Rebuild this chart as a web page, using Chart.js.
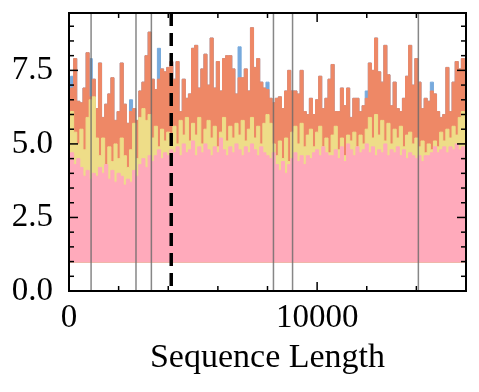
<!DOCTYPE html>
<html>
<head>
<meta charset="utf-8">
<script src="https://cdn.jsdelivr.net/npm/chart.js@4/dist/chart.umd.min.js"></script>
<style>
html, body { margin: 0; padding: 0; background: #fff; }
</style>
</head>
<body>
<canvas id="myChart" width="479" height="392"></canvas>
<script>
// sequence positions (every 125 tokens, 0..16000)
var seqLen = [];
for (var i = 0; i <= 128; i++) seqLen.push(i * 125);

// values
var orangeVals = [
  6.7, 6.9, 7.9, 6.45, 6.4, 6.9, 8.1, 6.6, 7.2, 6.2,
  7.75, 5.9, 6.35, 6.7, 7.25, 5.8, 6.1, 7.75, 6.35, 5.7,
  6.1, 6.2, 5.8, 6.8, 7.1, 8.0, 8.8, 7.2, 6.85, 7.2,
  7.55, 7.45, 7.6, 7.8, 7.2, 7.8, 6.1, 7.2, 6.55, 6.7,
  8.25, 8.35, 6.9, 7.55, 8.05, 7.0, 8.6, 6.9, 7.8, 6.8,
  7.9, 8.0, 8.0, 7.55, 6.7, 7.25, 7.25, 7.55, 6.8, 8.95,
  7.6, 7.9, 7.1, 6.9, 6.85, 6.55, 6.4, 6.55, 6.6, 6.2,
  6.8, 7.5, 6.8, 6.8, 6.7, 7.5, 6.1, 6.0, 6.55, 6.0,
  6.5, 7.3, 6.2, 6.55, 7.2, 7.7, 6.1, 6.1, 6.9, 6.3,
  6.9, 5.9, 6.55, 6.55, 6.1, 6.3, 6.55, 7.75, 7.5, 8.6,
  7.45, 7.1, 8.35, 7.35, 6.3, 7.1, 6.2, 6.1, 6.55, 7.3,
  8.35, 7.0, 7.9, 7.1, 6.2, 6.55, 6.45, 6.8, 6.7, 6.1,
  5.9, 6.0, 7.6, 6.1, 7.1, 7.8, 7.55, 7.9, 6.5
];
var blueVals = [
  6.7, 7.3, 7.9, 6.45, 6.4, 6.9, 8.1, 7.9, 7.2, 6.2,
  7.75, 5.9, 6.35, 6.7, 7.25, 5.8, 6.1, 7.75, 6.35, 5.7,
  6.5, 6.2, 5.8, 6.8, 7.1, 8.0, 8.8, 7.2, 6.85, 8.25,
  7.55, 7.45, 7.6, 7.8, 7.2, 7.8, 6.1, 7.2, 6.55, 6.7,
  8.25, 8.35, 6.9, 7.55, 8.05, 7.0, 8.6, 6.9, 7.8, 6.8,
  7.9, 8.0, 8.0, 7.55, 6.7, 8.3, 7.25, 7.55, 6.8, 8.95,
  7.6, 7.9, 7.1, 6.9, 7.1, 6.55, 6.4, 6.55, 6.6, 6.2,
  6.8, 7.5, 6.8, 6.8, 6.7, 7.5, 6.1, 6.0, 6.55, 6.0,
  6.5, 7.3, 6.2, 6.55, 7.2, 7.7, 6.1, 6.1, 6.9, 6.3,
  6.9, 5.9, 6.55, 6.55, 6.1, 6.3, 6.8, 7.75, 7.5, 8.6,
  7.45, 7.1, 8.35, 7.35, 6.3, 7.1, 6.2, 6.1, 6.55, 7.3,
  8.35, 7.0, 7.9, 7.1, 6.2, 6.55, 6.45, 7.1, 6.7, 6.1,
  5.9, 6.0, 7.6, 6.1, 7.1, 7.8, 7.55, 7.9, 6.5
];
var yellowVals = [
  5.9, 6.1, 5.4, 5.0, 5.5, 4.8, 5.9, 6.5, 6.6, 5.2,
  4.6, 5.2, 4.3, 4.9, 4.4, 5.0, 4.5, 5.2, 4.6, 4.2,
  4.8, 5.7, 4.5, 5.9, 6.2, 5.8, 6.0, 5.2, 5.6, 4.9,
  5.5, 5.1, 5.4, 5.2, 5.6, 5.0, 5.8, 5.3, 5.9, 5.1,
  5.7, 5.3, 5.9, 5.0, 5.5, 5.8, 5.2, 5.6, 4.9, 5.4,
  5.9, 5.1, 5.6, 5.2, 5.7, 5.3, 5.8, 5.1, 5.5, 5.9,
  5.2, 5.6, 5.0, 5.7, 6.0, 5.7, 5.0, 4.6, 5.1, 4.5,
  5.2, 4.4, 5.4, 5.6, 5.0, 5.7, 4.9, 5.3, 5.5, 4.9,
  5.4, 5.6, 4.9, 5.2, 4.7, 5.3, 5.6, 4.8, 5.2, 4.6,
  5.3, 5.1, 5.4, 4.9, 5.3, 5.0, 5.5, 5.9, 5.2, 6.0,
  5.3, 5.8, 5.1, 5.7, 5.0, 5.5, 5.2, 5.6, 4.9, 5.3,
  5.4, 5.0, 5.2, 4.9, 5.1, 4.7, 5.0, 4.8, 5.1, 4.9,
  5.4, 5.1, 5.5, 5.2, 5.6, 5.3, 5.9, 6.1, 5.9
];
var pinkVals = [
  4.4, 4.7, 4.3, 4.5, 4.2, 3.9, 4.1, 3.8, 4.0, 3.9,
  4.2, 4.0, 4.3, 3.8, 4.1, 3.7, 4.0, 3.9, 3.6, 3.8,
  3.7, 4.1, 3.9, 4.3, 4.5, 4.2, 4.6, 4.4, 4.6, 4.8,
  4.5, 4.7, 4.6, 4.8, 4.7, 4.9, 4.6, 5.0, 4.7, 4.8,
  5.1, 4.6, 4.9, 4.7, 5.0, 4.8, 4.6, 4.9, 4.7, 5.2,
  4.8, 4.6, 4.9, 4.7, 5.0, 4.8, 4.6, 4.9, 4.7, 5.0,
  4.8, 4.6, 4.9, 4.7, 4.6, 4.5, 4.7, 4.3, 4.1, 4.4,
  4.0, 4.3, 4.5, 4.7, 4.4, 4.6, 4.3, 4.6, 4.5, 4.7,
  4.8, 4.6, 4.9, 4.7, 4.6, 4.6, 4.8, 4.5, 4.9, 4.4,
  5.0, 4.8, 4.6, 4.9, 4.7, 4.8, 5.0, 4.7, 4.9, 4.6,
  4.8, 4.7, 5.0, 4.6, 4.8, 4.7, 4.9, 4.6, 4.8, 4.5,
  4.7, 4.6, 4.5, 4.6, 4.4, 4.6, 4.6, 4.7, 4.9, 4.7,
  4.8, 4.9, 4.7, 4.9, 4.8, 5.0, 4.8, 4.9, 4.8
];
var fillBase = 0.97;

var grayLines = [890, 2700, 3320, 8240, 9010, 14080];
var dashedLine = 4120;

var xTickVals = [0, 10000];
var xMinorVals = [2000, 4000, 6000, 8000, 12000, 14000];
var yTickVals = [0, 2.5, 5, 7.5];
var yMinorVals = [0.5, 1, 1.5, 2, 3, 3.5, 4, 4.5, 5.5, 6, 6.5, 7, 8, 8.5, 9];

function pts(vals) {
  return vals.map(function (v, k) { return {x: seqLen[k], y: v}; });
}
function series(vals, color) {
  return {
    data: pts(vals),
    borderColor: color,
    backgroundColor: color,
    borderWidth: 1,
    pointRadius: 0,
    stepped: 'middle',
    fill: {value: fillBase}
  };
}

var vLines = {
  id: 'vLines',
  afterDatasetsDraw: function (chart) {
    var ctx = chart.ctx, a = chart.chartArea, x = chart.scales.x;
    ctx.save();
    ctx.strokeStyle = 'rgba(105,105,105,0.8)';
    ctx.lineWidth = 1.5;
    grayLines.forEach(function (v) {
      var px = x.getPixelForValue(v);
      ctx.beginPath(); ctx.moveTo(px, a.top); ctx.lineTo(px, a.bottom); ctx.stroke();
    });
    ctx.strokeStyle = '#000';
    ctx.lineWidth = 3.5;
    ctx.setLineDash([13, 7]);
    var dx = x.getPixelForValue(dashedLine);
    ctx.beginPath(); ctx.moveTo(dx, a.top); ctx.lineTo(dx, a.bottom); ctx.stroke();
    ctx.restore();
  }
};

var frameTicks = {
  id: 'frameTicks',
  afterDraw: function (chart) {
    var ctx = chart.ctx, a = chart.chartArea, x = chart.scales.x, y = chart.scales.y;
    ctx.save();
    ctx.strokeStyle = '#000';
    ctx.lineWidth = 1.5;
    function seg(x1, y1, x2, y2) { ctx.beginPath(); ctx.moveTo(x1, y1); ctx.lineTo(x2, y2); ctx.stroke(); }
    xTickVals.forEach(function (v) { var p = x.getPixelForValue(v); seg(p, a.bottom, p, a.bottom - 9); seg(p, a.top, p, a.top + 9); });
    xMinorVals.forEach(function (v) { var p = x.getPixelForValue(v); seg(p, a.bottom, p, a.bottom - 5); seg(p, a.top, p, a.top + 5); });
    yTickVals.forEach(function (v) { var p = y.getPixelForValue(v); seg(a.left, p, a.left + 9, p); seg(a.right, p, a.right - 9, p); });
    yMinorVals.forEach(function (v) { var p = y.getPixelForValue(v); seg(a.left, p, a.left + 5, p); seg(a.right, p, a.right - 5, p); });
    ctx.lineWidth = 2;
    ctx.strokeRect(a.left, a.top, a.right - a.left, a.bottom - a.top);
    ctx.restore();
  }
};

Chart.defaults.font.family = '"Liberation Serif", "DejaVu Serif", serif';
Chart.defaults.color = '#000';

var ctx = document.getElementById("myChart");
var myChart = new Chart(ctx, {
  type: 'line',
  data: {
    datasets: [
      series(pinkVals, '#FFAABB'),
      series(yellowVals, '#EEDD88'),
      series(orangeVals, '#EE8866'),
      series(blueVals, '#77AADD')
    ]
  },
  options: {
    responsive: false,
    animation: false,
    layout: {padding: {left: 0, top: 13, right: 13, bottom: 0}},
    plugins: {legend: {display: false}, tooltip: {enabled: false}},
    scales: {
      x: {
        type: 'linear', min: 0, max: 16000,
        grid: {display: false, drawTicks: false},
        border: {display: false},
        ticks: {
          font: {size: 33}, padding: 8, maxRotation: 0, autoSkip: false,
          callback: function (v) { return String(v); }
        },
        afterBuildTicks: function (s) { s.ticks = xTickVals.map(function (v) { return {value: v}; }); },
        afterFit: function (s) { s.height = 101; s.paddingLeft = 0; s.paddingRight = 0; },
        title: {display: true, text: 'Sequence Length', font: {size: 34}, padding: {top: 0, bottom: 14}}
      },
      y: {
        min: 0, max: 9.45,
        grid: {display: false, drawTicks: false},
        border: {display: false},
        ticks: {
          font: {size: 33}, padding: 16, autoSkip: false,
          callback: function (v) { return Number(v).toFixed(1); }
        },
        afterBuildTicks: function (s) { s.ticks = yTickVals.map(function (v) { return {value: v}; }); },
        afterFit: function (s) { s.width = 69; s.paddingTop = 0; s.paddingBottom = 0; }
      }
    }
  },
  plugins: [vLines, frameTicks]
});
</script>
</body>
</html>
